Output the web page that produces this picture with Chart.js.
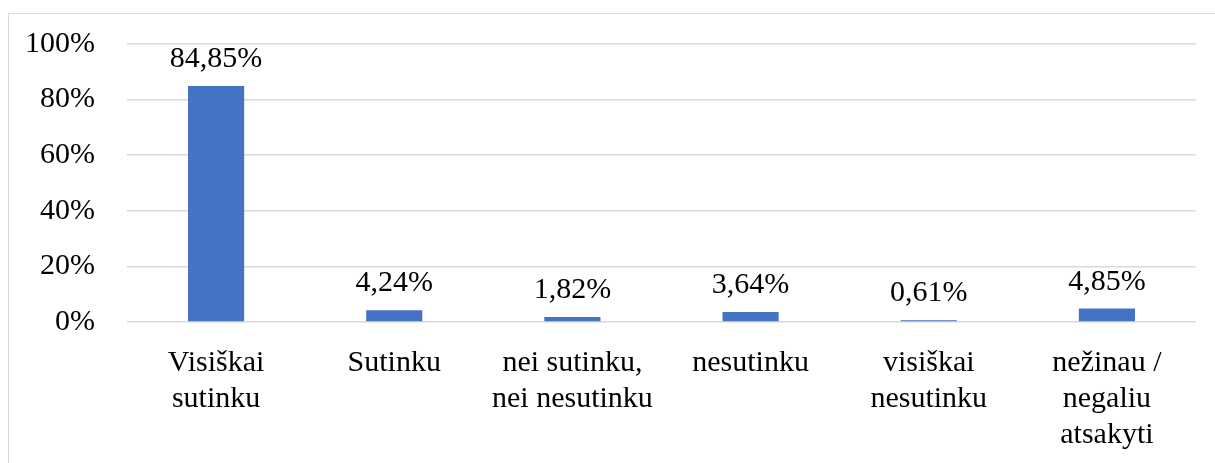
<!DOCTYPE html>
<html>
<head>
<meta charset="utf-8">
<script src="https://cdn.jsdelivr.net/npm/chart.js@4/dist/chart.umd.min.js"></script>
<style>
html,body{margin:0;padding:0;background:#fff;}
#wrap{position:relative;width:1215px;height:463px;}
</style>
</head>
<body>
<div id="wrap"><canvas id="c" width="1215" height="463"></canvas></div>
<script>
const categories = [
  ["Visiškai", "sutinku"],
  ["Sutinku"],
  ["nei sutinku,", "nei nesutinku"],
  ["nesutinku"],
  ["visiškai", "nesutinku"],
  ["nežinau /", "negaliu", "atsakyti"]
];
const values = [84.85, 4.24, 1.82, 3.64, 0.61, 4.85];
const valueLabels = ["84,85%", "4,24%", "1,82%", "3,64%", "0,61%", "4,85%"];
const yTicks = [0, 20, 40, 60, 80, 100];

const FONT = "'Liberation Serif', 'Times New Roman', serif";

const borderPlugin = {
  id: 'border',
  beforeDraw(chart) {
    const ctx = chart.ctx;
    ctx.save();
    ctx.strokeStyle = '#d9d9d9';
    ctx.lineWidth = 1;
    ctx.beginPath();
    ctx.moveTo(8.5, 470);
    ctx.lineTo(8.5, 13.5);
    ctx.lineTo(1220, 13.5);
    ctx.stroke();
    ctx.restore();
  }
};

const labelPlugin = {
  id: 'valLabels',
  afterDatasetsDraw(chart) {
    const ctx = chart.ctx;
    const meta = chart.getDatasetMeta(0);
    ctx.save();
    ctx.font = '30px ' + FONT;
    ctx.fillStyle = '#000';
    ctx.textAlign = 'center';
    ctx.textBaseline = 'alphabetic';
    meta.data.forEach((bar, i) => {
      ctx.fillText(valueLabels[i], bar.x, bar.y - 19);
    });
    ctx.restore();
  }
};

new Chart(document.getElementById('c'), {
  type: 'bar',
  data: {
    labels: categories,
    datasets: [{
      data: values,
      backgroundColor: '#4472c4',
      borderWidth: 0,
      categoryPercentage: 1,
      barPercentage: 0.315
    }]
  },
  options: {
    responsive: false,
    animation: false,
    devicePixelRatio: 1,
    layout: { padding: { left: 0, right: 19, top: 44, bottom: 0 } },
    plugins: { legend: { display: false }, tooltip: { enabled: false } },
    scales: {
      y: {
        min: 0, max: 100,
        afterFit(s) { s.width = 127; s.paddingTop = 0; s.paddingBottom = 0; },
        afterBuildTicks(s) { s.ticks = yTicks.map(v => ({ value: v })); },
        border: { display: false },
        grid: { color: '#d9d9d9', lineWidth: 1.5, drawTicks: false },
        ticks: {
          padding: 32,
          color: '#000',
          font: { family: FONT, size: 30 },
          callback: v => v + '%'
        }
      },
      x: {
        afterFit(s) { s.height = 463 - 322; s.paddingLeft = 0; s.paddingRight = 0; },
        border: { display: false },
        grid: { display: false, drawTicks: false },
        ticks: {
          padding: 23,
          maxRotation: 0,
          autoSkip: false,
          color: '#000',
          font: { family: FONT, size: 30, lineHeight: 1.2 }
        }
      }
    }
  },
  plugins: [borderPlugin, labelPlugin]
});
</script>
</body>
</html>
